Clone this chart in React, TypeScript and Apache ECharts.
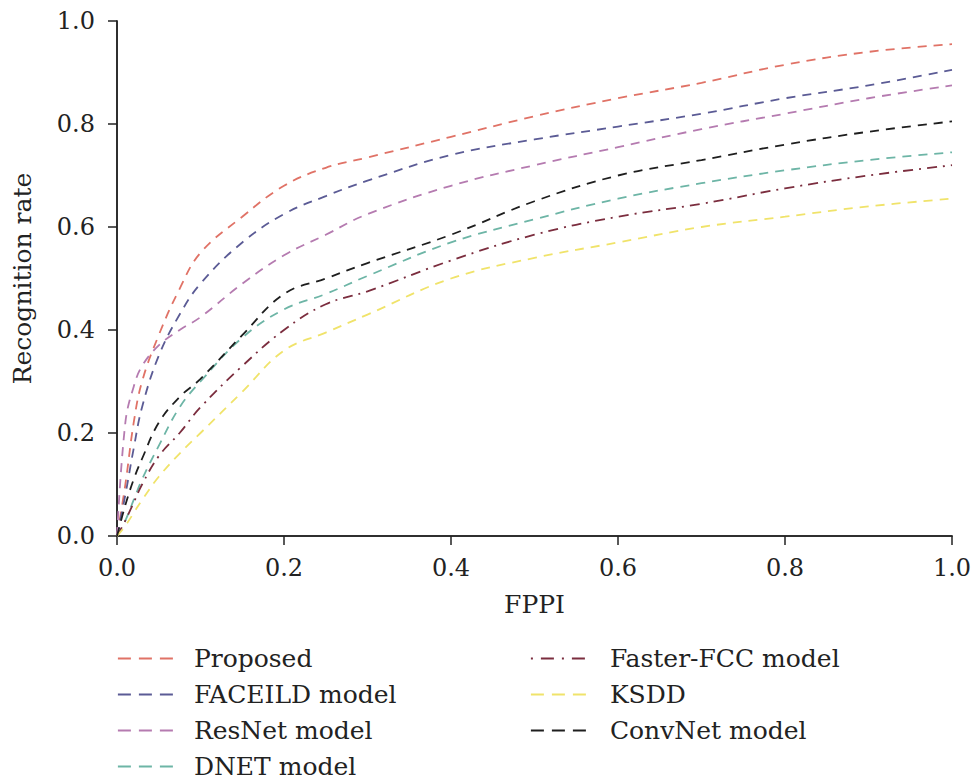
import React, { useEffect, useRef } from "react";
import * as echarts from "echarts";

const fppi = [0, 0.01, 0.02, 0.03, 0.05, 0.075, 0.1, 0.15, 0.2, 0.25, 0.3, 0.4, 0.5, 0.6, 0.7, 0.8, 0.9, 1.0];

const proposed = [0, 0.1, 0.22, 0.3, 0.39, 0.48, 0.55, 0.62, 0.68, 0.715, 0.735, 0.775, 0.815, 0.85, 0.88, 0.915, 0.94, 0.955];
const faceild = [0, 0.08, 0.17, 0.25, 0.35, 0.43, 0.49, 0.57, 0.625, 0.66, 0.69, 0.74, 0.77, 0.795, 0.82, 0.85, 0.875, 0.905];
const resnet = [0, 0.22, 0.29, 0.33, 0.37, 0.4, 0.425, 0.49, 0.545, 0.585, 0.625, 0.68, 0.72, 0.755, 0.79, 0.82, 0.85, 0.875];
const dnet = [0, 0.03, 0.07, 0.11, 0.175, 0.25, 0.3, 0.385, 0.44, 0.47, 0.505, 0.57, 0.615, 0.655, 0.685, 0.71, 0.73, 0.745];
const fasterFcc = [0, 0.03, 0.065, 0.1, 0.155, 0.2, 0.25, 0.33, 0.4, 0.45, 0.475, 0.535, 0.585, 0.62, 0.645, 0.675, 0.7, 0.72];
const ksdd = [0, 0.02, 0.045, 0.07, 0.115, 0.16, 0.2, 0.28, 0.36, 0.395, 0.43, 0.5, 0.54, 0.57, 0.6, 0.62, 0.64, 0.655];
const convnet = [0, 0.06, 0.11, 0.15, 0.22, 0.27, 0.305, 0.39, 0.47, 0.5, 0.53, 0.585, 0.65, 0.7, 0.73, 0.76, 0.785, 0.805];

const seriesNames = ["Proposed", "FACEILD model", "ResNet model", "DNET model", "Faster-FCC model", "KSDD", "ConvNet model"];
const seriesValues = [proposed, faceild, resnet, dnet, fasterFcc, ksdd, convnet];
const seriesColors = ["#e07266", "#5b5b95", "#b57bb0", "#6db5a6", "#7b2d3e", "#f0e36a", "#1e1e1e"];
const dash = [9, 7];
const dashDot = [10, 6, 2, 6];
const seriesDash = [dash, dash, dash, dash, dashDot, dash, dash];
const legendDash = [13, 8];
const legendDashDot = [2, 8, 13, 8];

const leftLegend = ["Proposed", "FACEILD model", "ResNet model", "DNET model"];
const rightLegend = ["Faster-FCC model", "KSDD", "ConvNet model"];

const FONT = "DejaVu Serif";

export default function App() {
  const ref = useRef<HTMLDivElement>(null);
  useEffect(() => {
    if (!ref.current) return;
    const chart = echarts.init(ref.current, undefined, { renderer: "svg" });
    const axisLine = { show: true, lineStyle: { color: "#222", width: 1.5 } };
    const legendItem = (name: string) => {
      const i = seriesNames.indexOf(name);
      return {
        name,
        lineStyle: { color: seriesColors[i], width: 1.8, type: seriesDash[i] === dashDot ? legendDashDot : legendDash },
      };
    };
    const legendBase = {
      orient: "vertical" as const,
      top: 646,
      padding: 0,
      itemWidth: 55,
      itemHeight: 14,
      itemGap: 11,
      itemStyle: { opacity: 0 },
      textStyle: { fontFamily: FONT, fontSize: 25, color: "#222", lineHeight: 25 },
    };
    chart.setOption({
      animation: false,
      backgroundColor: "#fff",
      grid: { left: 117, top: 21, right: 24, bottom: 245 },
      legend: [
        { ...legendBase, left: 117, data: leftLegend.map(legendItem), textStyle: { ...legendBase.textStyle, padding: [0, 0, 0, 16] } },
        { ...legendBase, left: 530, data: rightLegend.map(legendItem), textStyle: { ...legendBase.textStyle, padding: [0, 0, 0, 19] } },
      ],
      xAxis: [
        {
          type: "value",
          min: 0,
          max: 1,
          interval: 0.2,
          name: "FPPI",
          nameLocation: "middle",
          nameGap: 56,
          nameTextStyle: { fontFamily: FONT, fontSize: 25, color: "#222" },
          axisLine,
          axisTick: { show: true, length: 9, inside: false, lineStyle: { color: "#222", width: 1.5 } },
          axisLabel: { fontFamily: FONT, fontSize: 24, color: "#222", margin: 20, formatter: (v: number) => v.toFixed(1) },
          splitLine: { show: false },
        },
        {
          type: "value",
          position: "top",
          min: 0,
          max: 1,
          axisLine,
          axisTick: { show: false },
          axisLabel: { show: false },
          splitLine: { show: false },
        },
      ],
      yAxis: [
        {
          type: "value",
          min: 0,
          max: 1,
          interval: 0.2,
          name: "Recognition rate",
          nameLocation: "middle",
          nameGap: 82,
          nameTextStyle: { fontFamily: FONT, fontSize: 25, color: "#222" },
          axisLine,
          axisTick: { show: true, length: 9, inside: false, lineStyle: { color: "#222", width: 1.5 } },
          axisLabel: { fontFamily: FONT, fontSize: 24, color: "#222", margin: 22, formatter: (v: number) => v.toFixed(1) },
          splitLine: { show: false },
        },
        {
          type: "value",
          position: "right",
          min: 0,
          max: 1,
          axisLine,
          axisTick: { show: false },
          axisLabel: { show: false },
          splitLine: { show: false },
        },
      ],
      series: seriesNames.map((name, i) => ({
        name,
        type: "line",
        data: fppi.map((x, j) => [x, seriesValues[i][j]]),
        showSymbol: false,
        symbol: "none",
        smooth: 0.4,
        lineStyle: { color: seriesColors[i], width: 1.8, type: seriesDash[i] },
        itemStyle: { color: seriesColors[i] },
      })),
    });
    return () => chart.dispose();
  }, []);
  return <div ref={ref} style={{ position: "fixed", left: 0, top: 0, width: 976, height: 781 }} />;
}
